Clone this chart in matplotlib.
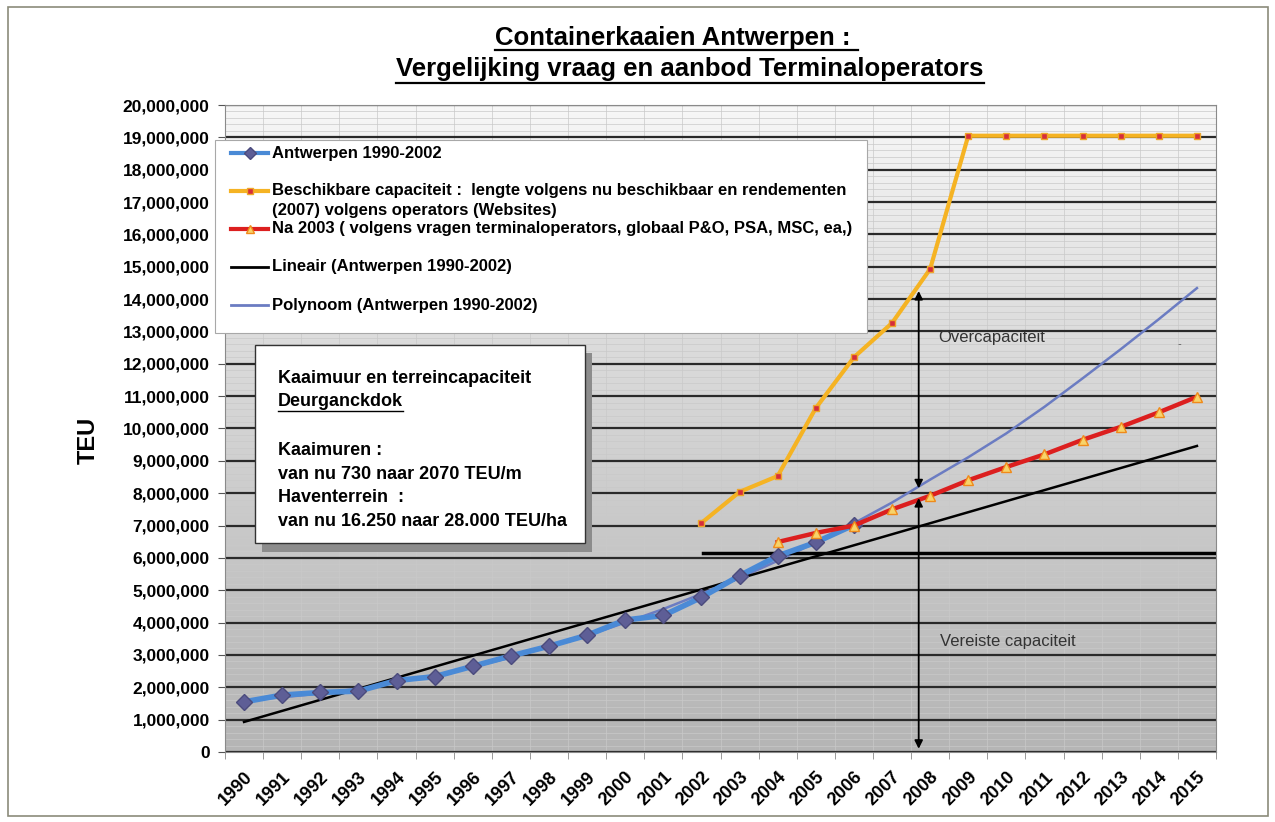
import numpy as np
import matplotlib
matplotlib.use("Agg")
import matplotlib.pyplot as plt
from matplotlib.patches import Rectangle
from matplotlib.lines import Line2D
from matplotlib.colors import LinearSegmentedColormap
from matplotlib.ticker import FuncFormatter

plt.rcParams['font.family'] = ['Liberation Sans', 'DejaVu Sans']

# Data (TEU)
# ----------
years = np.arange(1990, 2016)
year_labels = [str(y) for y in years]

antw_years = np.arange(1990, 2007)
antw_teu = [1.55e6, 1.76e6, 1.84e6, 1.88e6, 2.21e6, 2.33e6, 2.65e6, 2.97e6, 3.27e6,
            3.61e6, 4.08e6, 4.22e6, 4.78e6, 5.45e6, 6.06e6, 6.48e6, 7.02e6]

cap_years = np.arange(2002, 2016)
cap_teu = [7.08e6, 8.04e6, 8.53e6, 10.63e6, 12.2e6, 13.26e6, 14.93e6,
           19.05e6, 19.05e6, 19.05e6, 19.05e6, 19.05e6, 19.05e6, 19.05e6]

na2003_years = np.arange(2004, 2016)
na2003_teu = [6.49e6, 6.77e6, 7.0e6, 7.5e6, 7.92e6, 8.4e6, 8.81e6, 9.2e6,
              9.65e6, 10.05e6, 10.5e6, 10.98e6]

lin_years = [1990, 2015]
lin_teu = [0.93e6, 9.46e6]

poly_years = np.arange(1990, 2016)
poly_teu = [1.61e6, 1.69e6, 1.81e6, 1.96e6, 2.15e6, 2.37e6, 2.63e6, 2.92e6, 3.25e6,
            3.60e6, 4.00e6, 4.42e6, 4.89e6, 5.38e6, 5.91e6, 6.48e6, 7.07e6, 7.71e6,
            8.42e6, 9.11e6, 9.85e6, 10.67e6, 11.55e6, 12.45e6, 13.38e6, 14.34e6]

legend_labels = [
    ["Antwerpen 1990-2002"],
    ["Beschikbare capaciteit :  lengte volgens nu beschikbaar en rendementen",
     "(2007) volgens operators (Websites)"],
    ["Na 2003 ( volgens vragen terminaloperators, globaal P&O, PSA, MSC, ea,)"],
    ["Lineair (Antwerpen 1990-2002)"],
    ["Polynoom (Antwerpen 1990-2002)"],
]

box_lines = ["Kaaimuur en terreincapaciteit", "Deurganckdok", "",
             "Kaaimuren :", "van nu 730 naar 2070 TEU/m",
             "Haventerrein  :", "van nu 16.250 naar 28.000 TEU/ha"]

# Figure
# ------
W, H = 1275, 822
fig = plt.figure(figsize=(W / 100, H / 100), dpi=100)


def fx(x):
    return x / W


def fy(y):
    return 1 - y / H


ax = fig.add_axes([fx(225), fy(752), fx(1216) - fx(225), fy(105) - fy(752)])

# gradient background of the plot area
grad = np.linspace(0, 1, 256).reshape(-1, 1)
bg_cmap = LinearSegmentedColormap.from_list('bg', ['#b5b5b5', '#c8c8c8', '#dedede', '#f7f7f7'])
ax.imshow(grad, extent=[1989.5, 2015.5, 0, 20e6], origin='lower', aspect='auto',
          cmap=bg_cmap, zorder=0, interpolation='bilinear')
ax.set_xlim(1989.5, 2015.5)
ax.set_ylim(0, 20e6)

# grid
ax.set_yticks(np.arange(0, 20e6 + 1, 1e6))
ax.set_yticks(np.arange(0, 20e6 + 1, 2e5), minor=True)
ax.set_xticks(years)
ax.set_xticks(np.arange(1989.5, 2016, 1), minor=True)
ax.set_axisbelow(True)
ax.grid(which='minor', color='#c9c9c9', lw=0.5)
ax.yaxis.grid(True, which='major', color='#2a2a2a', lw=1.6)
ax.xaxis.grid(False, which='major')

ax.yaxis.set_major_formatter(FuncFormatter(lambda v, p: f"{int(round(v)):,}"))
ax.set_xticklabels(year_labels, rotation=45, ha='right', va='top', rotation_mode='anchor',
                   fontsize=13, fontweight='bold')
for lab in ax.get_yticklabels():
    lab.set_fontweight('bold')
    lab.set_fontsize(12.5)
ax.tick_params(axis='x', which='major', length=0, pad=12)
ax.tick_params(axis='x', which='minor', length=5, color='#888888')
ax.tick_params(axis='y', which='major', length=5, color='#555555', pad=6)
ax.tick_params(axis='y', which='minor', length=0)
for s in ax.spines.values():
    s.set_color('#8a8a8a')
    s.set_linewidth(0.8)

# series
ax.plot(poly_years, poly_teu, color='#6b7cc2', lw=1.8, zorder=3)
ax.plot(lin_years, lin_teu, color='black', lw=1.8, zorder=3)
ax.plot(antw_years, antw_teu, color='#4a8ad6', lw=4, marker='D', ms=8,
        mfc='#5e5e96', mec='#4b4b7d', zorder=4)
ax.plot(cap_years, cap_teu, color='#f5b323', lw=3, marker='s', ms=5,
        mfc='#d62d3a', mec='#eea62a', zorder=4)
ax.plot(na2003_years, na2003_teu, color='#dc1f1f', lw=3.2, marker='^', ms=7,
        mfc='#f7d36a', mec='#f08a1a', zorder=5)

# drawn shapes: threshold line and arrows
ax.plot([2002.05, 2015.5], [6.15e6, 6.15e6], color='black', lw=2.5, zorder=3)
ax.annotate('', xy=(2007.7, 14.25e6), xytext=(2007.7, 8.15e6),
            arrowprops=dict(arrowstyle='<|-|>', color='black', lw=1.3,
                            mutation_scale=12, shrinkA=0, shrinkB=0), zorder=6)
ax.annotate('', xy=(2007.7, 7.85e6), xytext=(2007.7, 0.1e6),
            arrowprops=dict(arrowstyle='<|-|>', color='black', lw=1.3,
                            mutation_scale=12, shrinkA=0, shrinkB=0), zorder=6)
ax.text(2008.2, 12.8e6, "Overcapaciteit", fontsize=12, color='#333333', va='center')
ax.text(2008.25, 3.43e6, "Vereiste capaciteit", fontsize=12, color='#333333', va='center')
ax.text(2014.5, 12.6e6, "-", fontsize=8, color='#555555', va='center')

# legend box (manual, to follow the original spacing)
fig.add_artist(Rectangle((fx(215), fy(333)), fx(867) - fx(215), fy(140) - fy(333),
                         transform=fig.transFigure, facecolor='white',
                         edgecolor='#a8a8a8', lw=0.8, zorder=5))
handle_styles = [
    dict(color='#4a8ad6', lw=3, marker='D', ms=6, mfc='#5e5e96', mec='#4b4b7d'),
    dict(color='#f5b323', lw=3, marker='s', ms=4, mfc='#d62d3a', mec='#eea62a'),
    dict(color='#dc1f1f', lw=3, marker='^', ms=6, mfc='#f7d36a', mec='#f08a1a'),
    dict(color='black', lw=2),
    dict(color='#6b7cc2', lw=2),
]
legend_y = [153, 191, 229, 267, 305]
for lines, sty, yy in zip(legend_labels, handle_styles, legend_y):
    fig.add_artist(Line2D([fx(231), fx(268)], [fy(yy), fy(yy)], transform=fig.transFigure,
                          zorder=6, color=sty['color'], lw=sty['lw']))
    if 'marker' in sty:
        fig.add_artist(Line2D([fx(249.5)], [fy(yy)], transform=fig.transFigure, zorder=7,
                              marker=sty['marker'], ms=sty['ms'], mfc=sty['mfc'],
                              mec=sty['mec'], ls='none'))
    for k, line in enumerate(lines):
        fig.text(fx(272), fy(yy + 19 * k), line, fontsize=12, fontweight='bold',
                 va='center', zorder=7)

# text box with shadow
fig.add_artist(Rectangle((fx(262), fy(552)), fx(592) - fx(262), fy(353) - fy(552),
                         transform=fig.transFigure, facecolor='#8c8c8c', edgecolor='none', zorder=5))
fig.add_artist(Rectangle((fx(255), fy(543)), fx(585) - fx(255), fy(345) - fy(543),
                         transform=fig.transFigure, facecolor='white', edgecolor='#333333',
                         lw=1, zorder=6))
box_y = [378, 402, 426, 450, 474, 497, 521]
box_texts = []
for line, yy in zip(box_lines, box_y):
    box_texts.append(fig.text(fx(278), fy(yy), line, fontsize=13, fontweight='bold',
                              va='center', zorder=7))

# titles and axis label
t1 = fig.text(fx(676.5), fy(45), "Containerkaaien Antwerpen : ", fontsize=18.5,
              fontweight='bold', ha='center', va='baseline')
t2 = fig.text(fx(690), fy(76), "Vergelijking vraag en aanbod Terminaloperators", fontsize=18.5,
              fontweight='bold', ha='center', va='baseline')
fig.text(fx(88), fy(440), "TEU", fontsize=17, fontweight='bold', rotation=90,
         ha='center', va='center')

# outer frame
fig.add_artist(Rectangle((fx(8), fy(816)), fx(1268) - fx(8), fy(7) - fy(816),
                         transform=fig.transFigure, facecolor='none',
                         edgecolor='#8b8b7a', lw=1.2, zorder=1))

# underlines
fig.canvas.draw()
renderer = fig.canvas.get_renderer()


def underline(t, y_px, lw):
    bb = t.get_window_extent(renderer)
    fig.add_artist(Line2D([bb.x0 / W, bb.x1 / W], [fy(y_px), fy(y_px)],
                          transform=fig.transFigure, color='black', lw=lw, zorder=8))


underline(t1, 50, 1.6)
underline(t2, 83, 1.6)
underline(box_texts[1], 411, 1.0)

fig.savefig('out.png', dpi=100)
